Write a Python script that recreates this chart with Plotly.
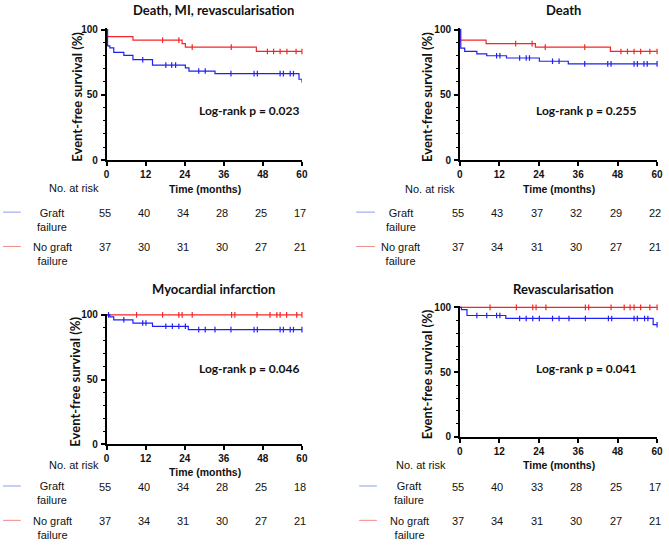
import plotly.graph_objects as go

# ---------------- data ----------------
time_ticks = [0, 12, 24, 36, 48, 60]
panel_titles = ["Death, MI, revascularisation", "Death", "Myocardial infarction", "Revascularisation"]
pvalues = ["Log-rank p = 0.023", "Log-rank p = 0.255", "Log-rank p = 0.046", "Log-rank p = 0.041"]
group_names = ["Graft<br>failure", "No graft<br>failure"]

# Panel 1: Death, MI, revascularisation
p1_graft_t = [0, 0.3, 1.0, 2.2, 5.3, 8.1, 14.1, 24.2, 25.3, 33.3, 59.1, 60]
p1_graft_s = [100, 87.5, 86.0, 82.5, 80.2, 76.9, 72.7, 70.7, 68.2, 66.2, 61.9, 59.4]
p1_graft_c = [11.1, 18.2, 20.0, 21.2, 28.3, 30.3, 38.2, 45.3, 46.3, 53.3, 54.3, 56.4, 57.4]
p1_nog_t = [0, 0.1, 8.1, 23.2, 24.2, 46.0, 60]
p1_nog_s = [100, 94.5, 91.9, 89.2, 86.5, 83.2, 83.2]
p1_nog_c = [17.2, 22.2, 26.3, 38.3, 49.4, 51.3, 53.3, 55.4, 58.2, 60]
p1_risk_graft = [55, 40, 34, 28, 25, 17]
p1_risk_nog = [37, 30, 31, 30, 27, 21]

# Panel 2: Death
p2_graft_t = [0, 0.3, 1.5, 5.2, 8.2, 14.2, 24.2, 33.0, 60]
p2_graft_s = [100, 85.7, 83.2, 81.4, 79.9, 78.2, 75.7, 73.7, 73.7]
p2_graft_c = [11.2, 12.2, 18.2, 20.2, 21.2, 28.2, 30.2, 38.0, 45.0, 46.0, 53.0, 54.0, 56.0, 57.0, 60]
p2_nog_t = [0, 0.1, 8.0, 23.0, 45.8, 60]
p2_nog_s = [100, 91.9, 89.2, 86.5, 83.2, 83.2]
p2_nog_c = [17.0, 22.0, 26.0, 38.0, 49.0, 51.0, 53.0, 55.0, 57.8, 60]
p2_risk_graft = [55, 43, 37, 32, 29, 22]
p2_risk_nog = [37, 34, 31, 30, 27, 21]

# Panel 3: Myocardial infarction
p3_graft_t = [0, 1.0, 2.2, 8.1, 14.1, 25.1, 60]
p3_graft_s = [100, 98.5, 96.2, 93.7, 91.2, 88.6, 88.6]
p3_graft_c = [0.6, 5.3, 11.1, 12.1, 18.2, 20.2, 22.2, 24.2, 28.3, 30.3, 33.3, 38.2, 45.3, 46.3,
              53.3, 54.3, 56.4, 57.4, 60]
p3_nog_t = [0, 60]
p3_nog_s = [100, 100]
p3_nog_c = [9.2, 17.2, 22.2, 23.2, 26.3, 38.4, 39.4, 46.2, 50.2, 52.3, 53.3, 55.3, 58.4, 60]
p3_risk_graft = [55, 40, 34, 28, 25, 18]
p3_risk_nog = [37, 34, 31, 30, 27, 21]

# Panel 4: Revascularisation
p4_graft_t = [0, 0.5, 2.2, 14.0, 58.8, 60]
p4_graft_s = [100, 98.2, 93.7, 91.4, 86.6, 86.6]
p4_graft_c = [5.2, 8.2, 11.2, 12.2, 18.2, 20.2, 22.2, 24.2, 28.2, 30.2, 33.2, 38.2, 45.2, 46.2,
              53.0, 54.0, 56.2, 57.2, 60]
p4_nog_t = [0, 60]
p4_nog_s = [100, 100]
p4_nog_c = [9.2, 17.2, 22.2, 23.2, 26.2, 38.2, 39.2, 46.0, 50.0, 51.8, 53.0, 55.0, 57.8, 60]
p4_risk_graft = [55, 40, 33, 28, 25, 17]
p4_risk_nog = [37, 34, 31, 30, 27, 21]

# ---------------- layout helpers ----------------
W, H = 669, 545
def fx(p): return p / W
def fy(p): return 1 - p / H

BLUE = "#2020f6"
RED = "#f62626"
LBLUE = "#8a9cf0"
LRED = "#f28a8a"
TXT = "#111111"
CAL = "Lato"
ARIAL = "Liberation Sans, Arial"

def step_at(ts, ss, c):
    v = ss[0]
    for t, s in zip(ts, ss):
        if t <= c:
            v = s
    return v

panels = [
    dict(gt=p1_graft_t, gs=p1_graft_s, gc=p1_graft_c, nt=p1_nog_t, ns=p1_nog_s, nc=p1_nog_c,
         rg=p1_risk_graft, rn=p1_risk_nog,
         xd=(105, 303), y0=159, scale=1.33, title_y=6, ttl_x=213, pv=(249.5, 108),
         ytitle_x=75, tick_y=172, time_y=188, nar=(72, 187), lab_x=50, leg=(0, 18),
         rows=(213, 248), rowlab=(220, 255)),
    dict(gt=p2_graft_t, gs=p2_graft_s, gc=p2_graft_c, nt=p2_nog_t, ns=p2_nog_s, nc=p2_nog_c,
         rg=p2_risk_graft, rn=p2_risk_nog,
         xd=(463, 663), y0=159, scale=1.33, title_y=6, ttl_x=568, pv=(591.5, 108),
         ytitle_x=430, tick_y=172, time_y=188, nar=(433, 188), lab_x=403, leg=(358, 377),
         rows=(213, 248), rowlab=(220, 255)),
    dict(gt=p3_graft_t, gs=p3_graft_s, gc=p3_graft_c, nt=p3_nog_t, ns=p3_nog_s, nc=p3_nog_c,
         rg=p3_risk_graft, rn=p3_risk_nog,
         xd=(105, 303), y0=448.7, scale=1.32, title_y=290, ttl_x=213, pv=(249.5, 371),
         ytitle_x=73, tick_y=462, time_y=477, nar=(72, 470), lab_x=50, leg=(0, 18),
         rows=(492, 527), rowlab=(498.5, 533.5)),
    dict(gt=p4_graft_t, gs=p4_graft_s, gc=p4_graft_c, nt=p4_nog_t, ns=p4_nog_s, nc=p4_nog_c,
         rg=p4_risk_graft, rn=p4_risk_nog,
         xd=(463, 663), y0=441, scale=1.32, title_y=290, ttl_x=568, pv=(591.5, 371),
         ytitle_x=430, tick_y=455, time_y=470, nar=(424, 470), lab_x=412, leg=(361, 379),
         rows=(492, 527), rowlab=(498.5, 533.5)),
]

fig = go.Figure()
annotations = []
shapes = []
YMAX = 101

def ann(text, x, y, font, xref="paper", **kw):
    d = dict(text=text, x=x, y=y, xref=xref, yref="paper", showarrow=False,
             xanchor="center", yanchor="middle", font=font)
    d.update(kw)
    annotations.append(d)

for i, p in enumerate(panels):
    n = i + 1
    xa = "x" if n == 1 else f"x{n}"
    ya = "y" if n == 1 else f"y{n}"
    for ts, ss, cs, col in [(p["nt"], p["ns"], p["nc"], RED), (p["gt"], p["gs"], p["gc"], BLUE)]:
        fig.add_trace(go.Scatter(x=ts, y=ss, mode="lines", line=dict(color=col, width=1.2, shape="hv"),
                                 xaxis=xa, yaxis=ya, showlegend=False, hoverinfo="skip"))
        fig.add_trace(go.Scatter(x=cs, y=[step_at(ts, ss, c) for c in cs], mode="markers",
                                 marker=dict(symbol="line-ns", size=4, line=dict(color=col, width=1.2)),
                                 xaxis=xa, yaxis=ya, showlegend=False, hoverinfo="skip", cliponaxis=False))
    top_px = p["y0"] - YMAX * p["scale"]
    common = dict(showline=True, linecolor="black", linewidth=1.5, ticks="outside", ticklen=4,
                  tickwidth=1.5, tickcolor="black", showgrid=False, zeroline=False,
                  tickfont=dict(family=ARIAL, size=10, color=TXT, weight="bold"))
    fig.layout[f"xaxis{n if n > 1 else ''}"] = dict(
        domain=[fx(p["xd"][0]), fx(p["xd"][1])], anchor=ya, range=[0, 60],
        tickvals=time_ticks, **common)
    fig.layout[f"yaxis{n if n > 1 else ''}"] = dict(
        domain=[fy(p["y0"]), fy(top_px)], anchor=xa, range=[0, YMAX],
        tickvals=[0, 50, 100], ticklabelstandoff=1,
        minor=dict(dtick=10, ticks="outside", ticklen=2, tickwidth=1, tickcolor="black"),
        **common)

    ann(f"<b>{panel_titles[i]}</b>", fx(p["ttl_x"]), fy(p["title_y"]),
        dict(family=CAL, size=13, color=TXT))
    ann(f"<b>{pvalues[i]}</b>", fx(p["pv"][0]), fy(p["pv"][1]),
        dict(family=CAL, size=12, color=TXT))
    mid = (p["y0"] + p["y0"] - 100 * p["scale"]) / 2 + 2
    ann("<b>Event-free survival (%)</b>", fx(p["ytitle_x"]), fy(mid),
        dict(family=CAL, size=13, color=TXT), textangle=-90)
    ann("<b>Time (months)</b>", fx((p["xd"][0] + p["xd"][1]) / 2 + 1), fy(p["time_y"]),
        dict(family=ARIAL, size=10.5, color=TXT))
    ann("No. at risk", fx(p["nar"][0]), fy(p["nar"][1]), dict(family=ARIAL, size=11, color=TXT))
    for k, (risk, col) in enumerate([(p["rg"], LBLUE), (p["rn"], LRED)]):
        ann(group_names[k], fx(p["lab_x"]), fy(p["rowlab"][k]),
            dict(family=ARIAL, size=11, color=TXT), align="center")
        shapes.append(dict(type="line", xref="paper", yref="paper",
                           x0=fx(p["leg"][0]), x1=fx(p["leg"][1]),
                           y0=fy(p["rows"][k] - 1), y1=fy(p["rows"][k] - 1),
                           line=dict(color=col, width=1)))
        for t, v in zip(time_ticks, risk):
            ann(str(v), t, fy(p["rows"][k]), dict(family=ARIAL, size=11, color=TXT),
                xref=xa, xshift=-2)

fig.update_layout(width=W, height=H, margin=dict(l=0, r=0, t=0, b=0),
                  paper_bgcolor="white", plot_bgcolor="white",
                  annotations=annotations, shapes=shapes)
fig.write_html("out.html", config={"displayModeBar": False},
               post_script="document.body.style.margin='0px';document.body.style.padding='0px';")
